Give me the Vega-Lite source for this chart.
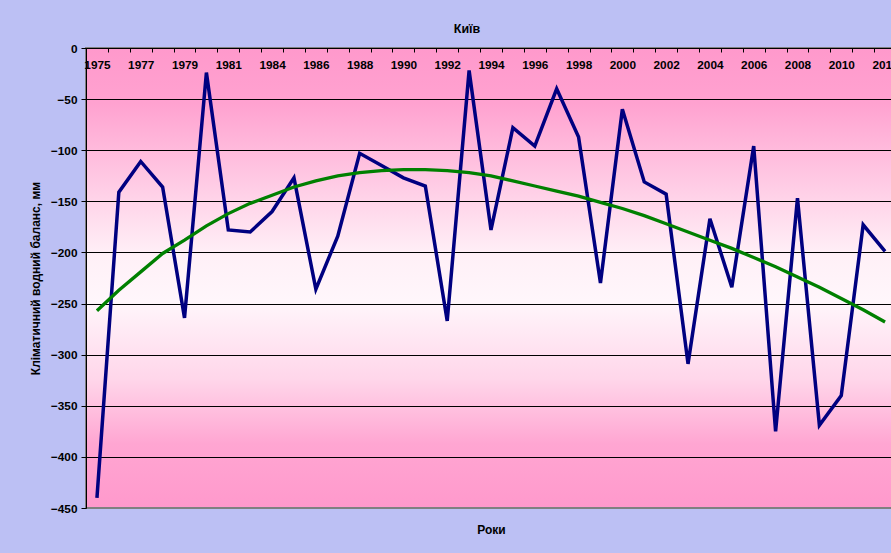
{
  "$schema": "https://vega.github.io/schema/vega-lite/v6.json",
  "width": 810,
  "height": 460,
  "autosize": {"type": "none"},
  "padding": {"left": 86, "top": 48, "right": 0, "bottom": 45},
  "background": "#bcc0f4",
  "title": {"text": "Київ", "anchor": "middle", "dx": -24, "offset": 8, "font": "Liberation Sans", "fontSize": 12.5, "fontWeight": "bold", "color": "black"},
  "config": {
    "view": {
      "fill": {"gradient": "linear", "x1": 0, "y1": 0, "x2": 0, "y2": 1, "stops": [
        {"offset": 0, "color": "#ff99cc"},
        {"offset": 0.12, "color": "#ffa2d0"},
        {"offset": 0.45, "color": "#fff0f7"},
        {"offset": 0.55, "color": "#fff6fb"},
        {"offset": 0.72, "color": "#ffd6ea"},
        {"offset": 0.86, "color": "#ffa6d2"},
        {"offset": 1, "color": "#ff99cc"}
      ]},
      "stroke": "#808080",
      "strokeWidth": 2
    }
  },
  "data": {"values": [
    {"year": "1975", "v": -440, "trend": -257},
    {"year": "1976", "v": -141, "trend": -237},
    {"year": "1977", "v": -111, "trend": -219},
    {"year": "1978", "v": -136, "trend": -201},
    {"year": "1979", "v": -264, "trend": -188},
    {"year": "1980", "v": -24, "trend": -174},
    {"year": "1981", "v": -178, "trend": -162},
    {"year": "1982", "v": -180, "trend": -152},
    {"year": "1984", "v": -160, "trend": -144},
    {"year": "1985", "v": -127, "trend": -136},
    {"year": "1986", "v": -236, "trend": -130},
    {"year": "1987", "v": -184, "trend": -125},
    {"year": "1988", "v": -103, "trend": -122},
    {"year": "1989", "v": -115, "trend": -120},
    {"year": "1990", "v": -127, "trend": -119},
    {"year": "1991", "v": -135, "trend": -119},
    {"year": "1992", "v": -267, "trend": -120},
    {"year": "1993", "v": -22, "trend": -122},
    {"year": "1994", "v": -178, "trend": -125},
    {"year": "1995", "v": -78, "trend": -130},
    {"year": "1996", "v": -96, "trend": -135},
    {"year": "1997", "v": -40, "trend": -140},
    {"year": "1998", "v": -87, "trend": -145},
    {"year": "1999", "v": -230, "trend": -151},
    {"year": "2000", "v": -60, "trend": -157},
    {"year": "2001", "v": -131, "trend": -164},
    {"year": "2002", "v": -143, "trend": -172},
    {"year": "2003", "v": -309, "trend": -180},
    {"year": "2004", "v": -167, "trend": -188},
    {"year": "2005", "v": -234, "trend": -196},
    {"year": "2006", "v": -96, "trend": -205},
    {"year": "2007", "v": -375, "trend": -214},
    {"year": "2008", "v": -147, "trend": -224},
    {"year": "2009", "v": -369, "trend": -234},
    {"year": "2010", "v": -340, "trend": -245},
    {"year": "2011", "v": -173, "trend": -256},
    {"year": "2012", "v": -199, "trend": -268}
  ]},
  "encoding": {
    "x": {
      "field": "year", "type": "ordinal", "sort": null,
      "scale": {"type": "band", "paddingInner": 0, "paddingOuter": 0},
      "axis": {
        "orient": "bottom", "offset": -460,
        "title": "Роки", "titleFont": "Liberation Sans", "titleFontSize": 12, "titleFontWeight": "bold", "titleColor": "black",
        "titleBaseline": "middle", "titleY": 481,
        "domainColor": "black", "domainWidth": 1,
        "tickColor": "black", "tickSize": 4, "tickOffset": -10.95, "labelOffset": 10.95,
        "labelAngle": 0, "labelFont": "Liberation Sans", "labelFontSize": 11.8, "labelFontWeight": "bold", "labelColor": "black",
        "labelPadding": 7, "labelOverlap": "parity", "grid": false
      }
    }
  },
  "layer": [
    {
      "mark": {"type": "line", "color": "#000080", "strokeWidth": 3.5},
      "encoding": {
        "y": {
          "field": "v", "type": "quantitative", "title": "Кліматичний водний баланс, мм",
          "scale": {"domain": [-450, 0], "nice": false, "zero": false},
          "axis": {
            "values": [0, -50, -100, -150, -200, -250, -300, -350, -400, -450],
            "titleFont": "Liberation Sans", "titleFontSize": 12, "titleFontWeight": "bold", "titleColor": "black", "titlePadding": 8,
            "labelFont": "Liberation Sans", "labelFontSize": 11.8, "labelFontWeight": "bold", "labelColor": "black", "labelPadding": 4,
            "tickSize": 5, "tickColor": "black", "domainColor": "black", "domainWidth": 1,
            "grid": true, "gridOpacity": 1, "gridWidth": 1,
            "gridColor": {"condition": {"test": "datum.value === -450", "value": "#808080"}, "value": "black"}
          }
        }
      }
    },
    {
      "mark": {"type": "line", "color": "#008000", "strokeWidth": 3.3},
      "encoding": {
        "y": {"field": "trend", "type": "quantitative", "title": "Кліматичний водний баланс, мм"}
      }
    }
  ]
}
